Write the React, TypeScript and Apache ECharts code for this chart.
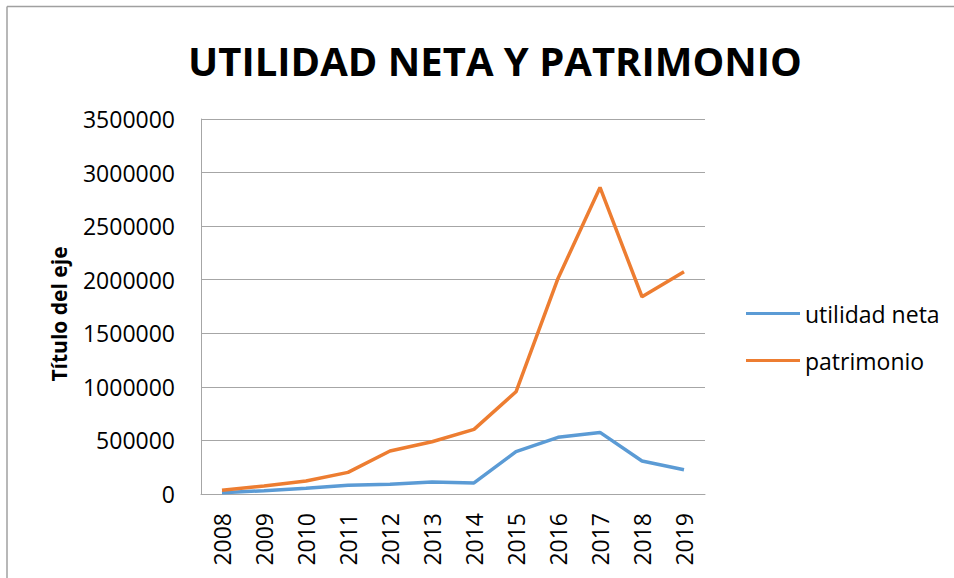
import React, { useEffect, useRef } from "react";
import * as echarts from "echarts";

const years = ["2008", "2009", "2010", "2011", "2012", "2013", "2014", "2015", "2016", "2017", "2018", "2019"];
const utilidadNeta = [12000, 31000, 53000, 81000, 90000, 112000, 103000, 395000, 529000, 575000, 308000, 227000];
const patrimonio = [35000, 75000, 121000, 202000, 401000, 488000, 603000, 954000, 2012000, 2861000, 1841000, 2074000];

const FONT = "Open Sans";

export default function App() {
  const ref = useRef<HTMLDivElement>(null);
  useEffect(() => {
    document.body.style.margin = "0";
    const chart = echarts.init(ref.current!, null, { renderer: "svg" });
    chart.setOption({
      animation: false,
      backgroundColor: "#fff",
      textStyle: { fontFamily: FONT, color: "#000" },
      title: {
        text: "UTILIDAD NETA Y PATRIMONIO",
        left: 490,
        top: 35,
        textAlign: "center",
        textStyle: { fontFamily: FONT, fontWeight: "bold", fontSize: 40, color: "#000" },
      },
      grid: { left: 201, right: 249, top: 119, bottom: 84, containLabel: false },
      legend: {
        orient: "vertical",
        left: 746,
        top: 302,
        padding: 0,
        icon: "rect",
        itemWidth: 54,
        itemHeight: 3,
        itemGap: 24,
        textStyle: { fontFamily: FONT, fontSize: 23, color: "#000" },
        data: ["utilidad neta", "patrimonio"],
      },
      xAxis: {
        type: "category",
        data: years,
        boundaryGap: true,
        axisLine: { lineStyle: { color: "#A6A6A6", width: 1 } },
        axisTick: { show: false },
        axisLabel: { rotate: 90, margin: 19, fontSize: 23, color: "#000", fontFamily: FONT },
      },
      yAxis: {
        type: "value",
        min: 0,
        max: 3500000,
        interval: 500000,
        axisLine: { show: true, lineStyle: { color: "#A6A6A6", width: 1 } },
        axisTick: { show: false },
        splitLine: { lineStyle: { color: "#A6A6A6", width: 1 } },
        axisLabel: {
          margin: 26,
          fontSize: 23,
          color: "#000",
          fontFamily: FONT,
          formatter: (v: number) => String(v),
        },
      },
      series: [
        {
          name: "utilidad neta",
          type: "line",
          data: utilidadNeta,
          symbol: "none",
          lineStyle: { color: "#5B9BD5", width: 3.5 },
          itemStyle: { color: "#5B9BD5" },
        },
        {
          name: "patrimonio",
          type: "line",
          data: patrimonio,
          symbol: "none",
          lineStyle: { color: "#ED7D31", width: 3.5 },
          itemStyle: { color: "#ED7D31" },
        },
      ],
      graphic: [
        { type: "line", shape: { x1: 7, y1: 6.5, x2: 954, y2: 6.5 }, style: { stroke: "#A0A0A0", lineWidth: 1.5 } },
        { type: "line", shape: { x1: 7, y1: 6.5, x2: 7, y2: 578 }, style: { stroke: "#A0A0A0", lineWidth: 1.5 } },
        {
          type: "text",
          x: 59,
          y: 314,
          rotation: Math.PI / 2,
          style: {
            text: "Título del eje",
            fontFamily: FONT,
            fontWeight: "bold",
            fontSize: 21,
            fill: "#000",
            align: "center",
            verticalAlign: "middle",
          },
        },
      ],
    });
    return () => chart.dispose();
  }, []);
  return <div ref={ref} style={{ width: 954, height: 578 }} />;
}
